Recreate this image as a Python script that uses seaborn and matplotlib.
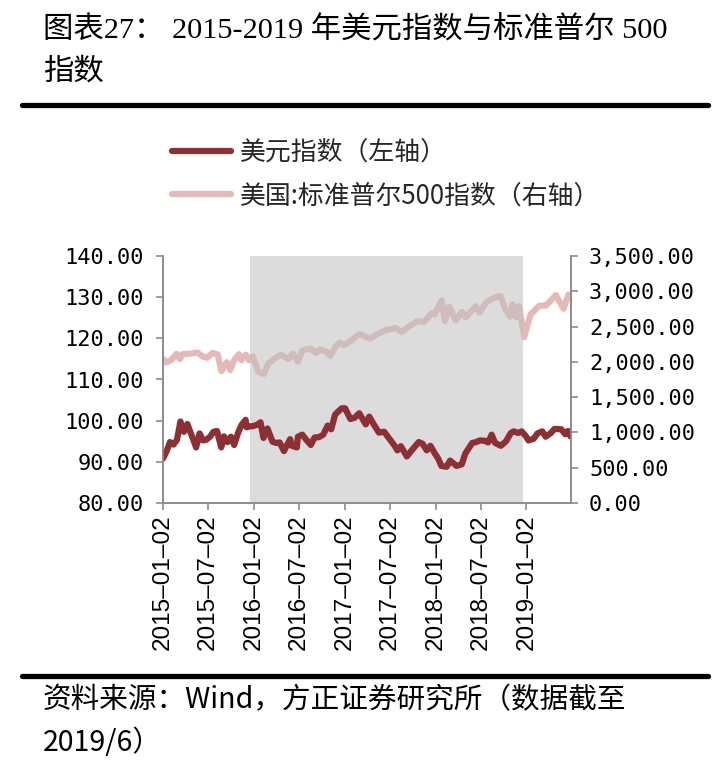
import matplotlib
matplotlib.use("Agg")
import matplotlib.pyplot as plt
from matplotlib.ticker import FuncFormatter
from matplotlib.lines import Line2D
import seaborn as sns
import pandas as pd

# ---------------- data ----------------
dxy_dates = [
    "2015-01-02", "2015-01-16", "2015-01-30", "2015-02-13", "2015-02-27", "2015-03-13",
    "2015-03-27", "2015-04-10", "2015-04-24", "2015-05-08", "2015-05-15", "2015-05-29",
    "2015-06-12", "2015-06-26", "2015-07-10", "2015-07-24", "2015-08-07", "2015-08-24",
    "2015-09-04", "2015-09-18", "2015-10-02", "2015-10-15", "2015-10-30", "2015-11-13",
    "2015-11-30", "2015-12-04", "2015-12-16", "2015-12-31", "2016-01-15", "2016-01-29",
    "2016-02-10", "2016-02-26", "2016-03-17", "2016-03-31", "2016-04-15", "2016-05-02",
    "2016-05-27", "2016-06-03", "2016-06-23", "2016-06-27", "2016-07-15", "2016-07-29",
    "2016-08-18", "2016-09-02", "2016-09-20", "2016-10-07", "2016-10-25", "2016-11-08",
    "2016-11-24", "2016-12-20", "2017-01-03", "2017-01-24", "2017-02-10", "2017-03-01",
    "2017-03-27", "2017-04-10", "2017-04-28", "2017-05-19", "2017-06-09", "2017-06-30",
    "2017-07-20", "2017-08-01", "2017-08-15", "2017-09-08", "2017-09-25", "2017-10-26",
    "2017-11-10", "2017-11-27", "2017-12-12", "2017-12-29", "2018-01-12", "2018-01-25",
    "2018-02-15", "2018-03-01", "2018-03-27", "2018-04-17", "2018-05-01", "2018-05-29",
    "2018-06-14", "2018-06-28", "2018-07-19", "2018-08-01", "2018-08-15", "2018-08-29",
    "2018-09-21", "2018-10-12", "2018-10-31", "2018-11-12", "2018-11-30", "2018-12-14",
    "2018-12-31", "2019-01-10", "2019-01-31", "2019-02-15", "2019-03-07", "2019-03-20",
    "2019-04-10", "2019-04-25", "2019-05-22", "2019-06-07", "2019-06-18", "2019-06-28",
]
dxy_values = [
    90.8, 92.5, 94.8, 94.2, 95.3, 99.8,
    97.3, 99.2, 96.9, 94.7, 93.5, 96.9,
    95.2, 95.4, 96.1, 97.3, 97.5, 93.5,
    96.2, 94.8, 96.1, 94.1, 96.9, 98.9,
    100.2, 98.4, 98.6, 98.7, 99.0, 99.6,
    95.8, 98.1, 94.9, 94.6, 94.7, 92.6,
    95.5, 93.9, 93.5, 96.1, 96.6, 95.5,
    94.1, 95.9, 96.0, 96.6, 98.8, 97.9,
    101.5, 103.0, 103.0, 100.4, 100.7, 101.8,
    99.1, 101.0, 99.1, 97.1, 97.3, 95.6,
    94.0, 92.8, 93.8, 91.3, 92.6, 94.8,
    94.4, 92.8, 93.9, 92.1, 90.8, 89.0,
    88.8, 90.3, 89.0, 89.4, 92.0, 94.6,
    94.8, 95.2, 95.1, 94.7, 96.6, 94.6,
    93.9, 95.0, 97.0, 97.4, 97.0, 97.4,
    96.2, 95.2, 95.6, 96.9, 97.4, 96.1,
    97.0, 98.0, 97.9, 96.7, 97.5, 96.2,
]

spx_dates = [
    "2015-01-02", "2015-01-15", "2015-02-02", "2015-02-25", "2015-03-11", "2015-03-20",
    "2015-04-24", "2015-05-21", "2015-06-08", "2015-06-29", "2015-07-20", "2015-08-10",
    "2015-08-25", "2015-09-16", "2015-09-29", "2015-10-15", "2015-11-03", "2015-11-13",
    "2015-12-01", "2015-12-14", "2015-12-29", "2016-01-20", "2016-02-11", "2016-03-01",
    "2016-03-31", "2016-04-20", "2016-05-19", "2016-06-08", "2016-06-27", "2016-07-15",
    "2016-08-15", "2016-09-09", "2016-09-22", "2016-10-21", "2016-11-04", "2016-11-25",
    "2016-12-13", "2016-12-30", "2017-01-26", "2017-03-01", "2017-04-13", "2017-05-16",
    "2017-06-19", "2017-07-26", "2017-08-18", "2017-09-20", "2017-10-20", "2017-11-15",
    "2017-12-18", "2017-12-29", "2018-01-26", "2018-02-08", "2018-02-26", "2018-03-23",
    "2018-04-18", "2018-05-03", "2018-06-12", "2018-06-27", "2018-07-25", "2018-08-29",
    "2018-09-20", "2018-10-11", "2018-10-29", "2018-11-07", "2018-11-23", "2018-12-03",
    "2018-12-24", "2019-01-18", "2019-02-22", "2019-03-22", "2019-04-30", "2019-05-31",
    "2019-06-20", "2019-06-28",
]
spx_values = [
    2040, 1992, 2020, 2113, 2040, 2108,
    2117, 2131, 2080, 2058, 2128, 2104,
    1868, 1995, 1884, 2023, 2109, 2023,
    2103, 2022, 2078, 1859, 1829, 1978,
    2060, 2102, 2040, 2119, 2001, 2162,
    2190, 2128, 2177, 2141, 2085, 2213,
    2271, 2239, 2297, 2396, 2329, 2400,
    2453, 2478, 2426, 2508, 2575, 2565,
    2690, 2674, 2873, 2581, 2780, 2588,
    2708, 2630, 2786, 2699, 2846, 2914,
    2931, 2728, 2641, 2814, 2633, 2790,
    2351, 2671, 2793, 2800, 2946, 2752,
    2954, 2942,
]

shade_start = "2015-12-16"
shade_end = "2018-12-19"

x_tick_dates = ["2015-01-02", "2015-07-02", "2016-01-02", "2016-07-02", "2017-01-02",
                "2017-07-02", "2018-01-02", "2018-07-02", "2019-01-02"]
left_ticks = [80, 90, 100, 110, 120, 130, 140]
right_ticks = [0, 500, 1000, 1500, 2000, 2500, 3000, 3500]

label_dxy = "美元指数（左轴）"
label_spx = "美国:标准普尔500指数（右轴）"
title_line1 = "图表27： 2015-2019 年美元指数与标准普尔 500"
title_line2 = "指数"
source_line1 = "资料来源：Wind，方正证券研究所（数据截至"
source_line2 = "2019/6）"

# ---------------- style ----------------
sns.set_style("white")
plt.rcParams["font.family"] = ["Liberation Sans", "Noto Sans CJK SC", "DejaVu Sans"]
plt.rcParams["axes.unicode_minus"] = False

c_dxy = "#8E2F33"
c_spx = "#E6B9B8"
spine_c = "#8C8C8C"
lw = 4.5

df_dxy = pd.DataFrame({"date": pd.to_datetime(dxy_dates), "value": dxy_values})
df_spx = pd.DataFrame({"date": pd.to_datetime(spx_dates), "value": spx_values})

fig = plt.figure(figsize=(7.22, 7.66), dpi=100)
ax = fig.add_axes([163 / 722, 1 - 503 / 766, (571 - 163) / 722, (503 - 256) / 766])
ax2 = ax.twinx()

sns.lineplot(data=df_spx, x="date", y="value", ax=ax2, color=c_spx, linewidth=lw,
             solid_joinstyle="round", solid_capstyle="round", legend=False)
sns.lineplot(data=df_dxy, x="date", y="value", ax=ax, color=c_dxy, linewidth=lw,
             solid_joinstyle="round", solid_capstyle="round", legend=False)

# shaded rate-hike period drawn on top (fades lines)
ax2.axvspan(pd.Timestamp(shade_start), pd.Timestamp(shade_end), color="#C0C0C0",
            alpha=0.54, zorder=10, linewidth=0)

ax.set_xlim(pd.Timestamp("2015-01-02"), pd.Timestamp("2019-06-30"))
ax.set_ylim(80, 140)
ax2.set_ylim(0, 3500)
ax.set_yticks(left_ticks)
ax2.set_yticks(right_ticks)
ax.set_xticks(pd.to_datetime(x_tick_dates))
ax.set_xticklabels([d.replace("-", "–") for d in x_tick_dates], rotation=90,
                   fontsize=17.5, family=["Liberation Sans", "DejaVu Sans"])
ax.yaxis.set_major_formatter(FuncFormatter(lambda v, p: f"{v:.2f}"))
ax2.yaxis.set_major_formatter(FuncFormatter(lambda v, p: f"{v:,.2f}"))
for lab in ax.get_yticklabels() + ax2.get_yticklabels():
    lab.set_fontsize(15.8)
    lab.set_family(["DejaVu Sans Mono"])

ax.set_xlabel("")
ax.set_ylabel("")
ax2.set_ylabel("")

for a in (ax, ax2):
    a.spines["top"].set_visible(False)
    for s in ("left", "right", "bottom"):
        a.spines[s].set_color(spine_c)
        a.spines[s].set_linewidth(1.2)
    a.tick_params(axis="both", which="major", direction="out", length=5, width=1.2,
                  color=spine_c, labelcolor="black")
    a.grid(False)
ax.tick_params(axis="y", left=True, pad=9)
ax.tick_params(axis="x", bottom=True, pad=3)
ax2.tick_params(axis="y", right=True, pad=8)
ax.set_zorder(ax2.get_zorder() + 1)
ax.patch.set_visible(False)

# legend
handles = [Line2D([0], [0], color=c_dxy, lw=lw),
           Line2D([0], [0], color=c_spx, lw=lw)]
fig.legend(handles, [label_dxy, label_spx], loc="upper left",
           bbox_to_anchor=(172 / 722, 1 - 139 / 766), frameon=False,
           prop={"family": ["Noto Sans CJK SC"], "size": 18.6},
           handlelength=2.3, handletextpad=0.32, labelspacing=0.62,
           borderaxespad=0, borderpad=0)

# title
title_font = ["Liberation Serif", "Noto Sans CJK SC"]
fig.text(43 / 722, 1 - 30 / 766, title_line1, fontsize=21.9, family=title_font,
         va="center", ha="left", color="black")
fig.text(43 / 722, 1 - 72 / 766, title_line2, fontsize=21.9, family=title_font,
         va="center", ha="left", color="black")

# rules
fig.add_artist(Line2D([22 / 722, 708 / 722], [1 - 105 / 766, 1 - 105 / 766],
                      color="black", lw=3.8, transform=fig.transFigure))
fig.add_artist(Line2D([22 / 722, 708 / 722], [1 - 676 / 766, 1 - 676 / 766],
                      color="black", lw=3.8, transform=fig.transFigure))

# source
src_font = ["Noto Sans CJK SC", "DejaVu Sans"]
fig.text(43 / 722, 1 - 700 / 766, source_line1, fontsize=20.6, family=src_font,
         va="center", ha="left", color="black")
fig.text(43 / 722, 1 - 743 / 766, source_line2, fontsize=20.6, family=src_font,
         va="center", ha="left", color="black")

fig.savefig("out.png", dpi=100)
